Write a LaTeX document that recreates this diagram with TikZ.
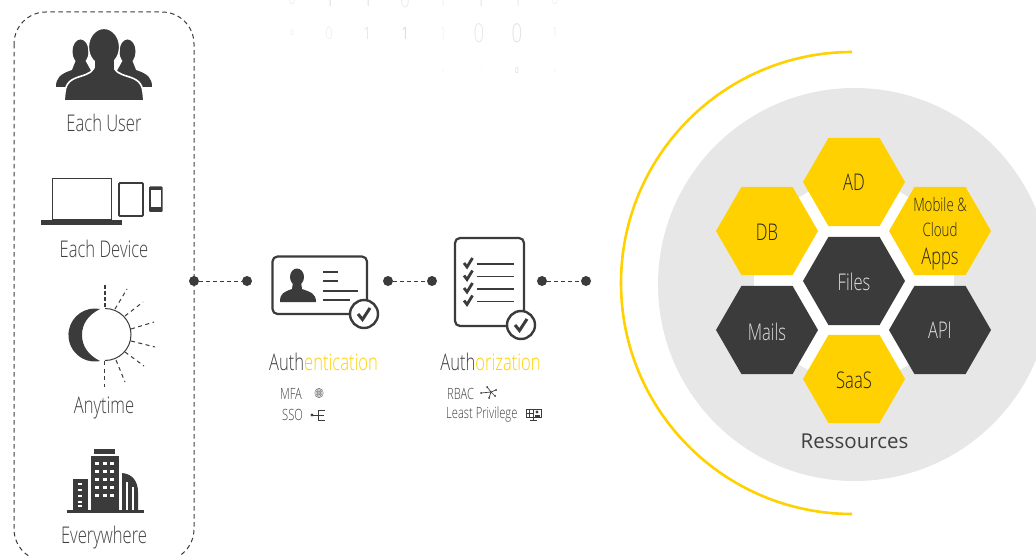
\documentclass[tikz,border=0pt]{standalone}
\usepackage{fontspec}
\setmainfont[FakeStretch=0.72]{Open Sans Light}
\newfontfamily\resfont{Open Sans}
\usetikzlibrary{shapes.geometric}
\definecolor{ink}{HTML}{3C3B3B}
\definecolor{gold}{HTML}{FFD100}
\definecolor{paleg}{HTML}{E7E7E7}
\definecolor{txt}{HTML}{404040}
\newcommand{\sz}[1]{\fontsize{#1}{#1}\selectfont}
\tikzset{
  x=1pt,y=-1pt,
  dotn/.style={circle,fill=ink,minimum size=10pt,inner sep=0,outer sep=0},
  link/.style={draw=ink,line width=1pt,dash pattern=on 4pt off 3pt},
  hexn/.style={regular polygon,regular polygon sides=6,minimum size=102pt,inner sep=0,outer sep=0,align=center,text depth=0pt},
  goldhex/.style={hexn,fill=gold,text=black!85,font=\sz{23}},
  darkhex/.style={hexn,fill=ink,text=white!88!black,font=\sz{23}},
  lab/.style={text=txt,font=\sz{23},inner sep=0},
  small/.style={text=txt,font=\sz{15.5},inner sep=0,anchor=west},
  bit/.style={inner sep=0},
  ray/.style={draw=ink,line width=1pt,dash pattern=on 4pt off 3.5pt},
  tick/.style={draw=ink,line width=2.4pt},
  bar/.style={draw=ink,line width=1.6pt},
}
\begin{document}
\begin{tikzpicture}
\useasboundingbox (0,0) rectangle (1036,556);
\clip (0,0) rectangle (1036,556);
% faint binary digits
\foreach \px/\py/\ch/\fs/\op in {
  292/-1/0/16/12,330/-1/1/22/22,368/-1/1/22/22,405/-1/0/24/10,443/-1/1/22/8,481/-1/1/22/20,518/-1/1/22/14,555/-1/0/16/10,
  292/33/0/8/18,329/33/0/17/10,367/33/1/17/20,405/33/1/17/30,443/33/1/17/8,479/33/0/26/12,517/33/0/26/14,555/33/1/14/12,592/33/1/5/10,
  443/71/1/6/18,481/71/1/6/8,517/71/0/8/35,555/71/0/5/12}
  {\node[bit,text=ink!\op!white,font=\sz{\fs}] at (\px,\py) {\ch};}
% dashed frame
\draw[draw=ink,line width=1pt,dash pattern=on 4.5pt off 3.5pt,rounded corners=32pt] (14,12) rectangle (194,561);
% users icon
\foreach \m in {80.5,127.5}{
  \fill[ink] (\m,51.5) ellipse (8 and 12);
}
\fill[ink] (56,87) .. controls (56,78) and (60,74) .. (72,70) -- (76,60) -- (85,60) -- (100,87) -- cycle;
\fill[ink] (152,87) .. controls (152,78) and (148,74) .. (136,70) -- (132,60) -- (123,60) -- (108,87) -- cycle;
\fill[ink,draw=white,line width=1.6pt] (64,101) -- (65,92) .. controls (66,82) and (72,79) .. (80,76.5) .. controls (88,74) and (94,72) .. (95,64) -- (113,64) .. controls (114,72) and (120,74) .. (128,76.5) .. controls (136,79) and (142,82) .. (143,92) -- (144,101) -- cycle;
\fill[ink,draw=white,line width=1.2pt] (104,47) ellipse (15.5 and 18.5);
\fill[ink] (94.5,60) rectangle (113.5,72);
\node[lab] (u) at (104,123) {Each User};
% devices
\draw[draw=ink,line width=1.6pt] (52.5,178.5) rectangle (111.5,219.5);
\fill[ink] (41,220.5) rectangle (122,225);
\draw[draw=ink,line width=1.8pt,rounded corners=1pt] (119,183) rectangle (143,216);
\fill[ink,rounded corners=1pt] (149,186.5) rectangle (162.5,212);
\fill[white] (151,190.5) rectangle (161,207.5);
\node[lab] (d) at (104,249) {Each Device};
% anytime
\fill[ink] (100,309) arc (-79:-281:26.5) .. controls (88,355) and (82,346) .. (82,335) .. controls (82,324) and (88,315) .. (100,309) -- cycle;
\draw[ink,line width=1pt] (105,308.5) arc (-90:90:26);
\draw[draw=ink,line width=1.6pt,dash pattern=on 4pt off 2pt] (105,285) -- (105,308);
\draw[ray] (104,361) -- (104,387);
\foreach \xa/\ya/\xb/\yb in {115/309/127/289, 125/316/143/302, 131/329/154/322, 131/341/155/347, 125/352/144/366, 116/360/125/382}
  {\draw[ray] (\xa,\ya) -- (\xb,\yb);}
\node[lab] (a) at (104,408) {Anytime};
% buildings
\fill[ink] (67,510) rectangle (144,513);
\fill[ink] (94,449) rectangle (115,454);
\fill[ink] (91,456) rectangle (119,511);
\foreach \wx in {97,105,112} \foreach \wy in {463,471,479,487,495}
  {\fill[white] (\wx-1.7,\wy-1.5) rectangle (\wx+1.7,\wy+1.5);}
\fill[ink] (73,479) rectangle (88,511);
\foreach \wy in {484,490,496,502,506}
  {\fill[white] (78,\wy-.8) rectangle (82,\wy+.8);}
\fill[ink] (122,473) .. controls (133,474) and (138,482) .. (138,492) -- (138,511) -- (122,511) -- cycle;
\fill[white] (126,482) rectangle (127.5,510);
\fill[white] (132,487) rectangle (133.5,510);
\node[lab] (e) at (104,538) {Everywhere};
% chain of dots
\node[dotn] (n1) at (194,281) {};
\node[dotn] (n2) at (247,281) {};
\node[dotn] (n3) at (388,281) {};
\node[dotn] (n4) at (432,281) {};
\node[dotn] (n5) at (542,281) {};
\node[dotn] (n6) at (586,281) {};
\draw[link] (n1) -- (n2);
\draw[link] (n3) -- (n4);
\draw[link] (n5) -- (n6);
% id card
\draw[draw=ink,line width=2.2pt,rounded corners=5pt] (272.5,256.5) rectangle (367,314);
\fill[ink] (297,277) ellipse (7 and 8.5);
\fill[ink] (280,302) .. controls (280,293) and (284,292) .. (292,289) -- (293,282) -- (301,282) -- (302,289) .. controls (310,292) and (316,293) .. (316,302) -- cycle;
\foreach \ax/\ay in {338/272,338/281,358/291,350/300}{\draw[bar] (323,\ay) -- (\ax,\ay);}
\node[circle,draw=ink,fill=white,line width=2.4pt,minimum size=28pt,inner sep=0] (c1) at (364,314) {};
\draw[tick,line width=3pt] (358,314) -- (362.5,319.5) -- (370,308);
% checklist
\draw[draw=ink,line width=2.2pt,rounded corners=5pt] (455,238) rectangle (524,326);
\foreach \cy in {263,275.5,288,300.5}{
  \draw[tick,line width=2.8pt] (464,\cy) -- (467,\cy+4) -- (472.5,\cy-5);
  \draw[bar] (477,\cy+1) -- (514,\cy+1);
}
\node[circle,draw=ink,fill=white,line width=2.4pt,minimum size=28pt,inner sep=0] (c2) at (521,325) {};
\draw[tick,line width=3pt] (515,325) -- (519.5,330.5) -- (527,319);
% labels
\node[lab] (t1) at (323.5,362) {Auth\textcolor{gold}{entication}};
\node[lab] (t2) at (490.5,362) {Auth\textcolor{gold}{orization}};
\node[small] (s1) at (280,394) {MFA};
\node[small] (s2) at (282,414.5) {SSO};
\node[small] (s3) at (447,394) {RBAC};
\node[small] (s4) at (446,414.5) {Least Privilege};
% fingerprint
\fill[ink!70] (319,393) ellipse (4.5 and 5);
\foreach \r in {1.3,2.6,3.8}{\draw[white,line width=.4pt] (319,393) circle (\r);}
% SSO glyph
\draw[ink,line width=.8pt] (311,415) -- (318,415) (318,410) -- (318,420) (318,410) -- (325,410) (318,415) -- (324,415) (318,420) -- (325,420);
\fill[ink] (312,415) circle (1.6);
% RBAC glyph
\draw[ink,line width=.7pt] (481,393) -- (491,392) (491,392) -- (487,387) (491,392) -- (496,390) (491,392) -- (495,396) (491,392) -- (489,398);
\foreach \gx/\gy in {481/393,487/387,496/390,495/396,489/398}{\fill[ink] (\gx,\gy) circle (1);}
% least privilege glyph
\draw[ink,line width=.7pt] (526,409) rectangle (541,417) (533.5,409) -- (533.5,417) (530,420) -- (537,420) (533.5,417) -- (533.5,420) (526,413) -- (533,413) (529.5,409) -- (529.5,417);
\fill[ink] (537,412) circle (1.6);
\fill[ink] (534.5,417) rectangle (540,414.5);
% resources
\fill[paleg] (854.5,284.5) circle (196.5);
\draw[gold,line width=2.6pt] (852,52) arc (-90:-270:231);
\fill[white] (854,281) circle (100);
\node[goldhex,text height=16.5pt] (ad) at (854,182) {AD};
\node[goldhex,text height=18.5pt] (db) at (767,231) {DB};
\node[goldhex] (mo) at (940,231) {};
\node[inner sep=0,text=black!85,align=center] (mot) at (940,233.5) {\sz{18.5}Mobile \&\\[10pt]\sz{18.5}Cloud\\[10pt]\sz{23}Apps};
\node[darkhex,text height=18.5pt] (fi) at (854,281) {Files};
\node[darkhex,text height=20.5pt] (ma) at (767,330) {Mails};
\node[darkhex,text height=16.5pt] (ap) at (940,330) {API};
\node[goldhex,text height=18.5pt] (sa) at (854,379) {SaaS};
\node[inner sep=0,text=txt,font={\resfont\sz{20.5}}] (re) at (854.5,441) {Ressources};
\end{tikzpicture}
\end{document}
